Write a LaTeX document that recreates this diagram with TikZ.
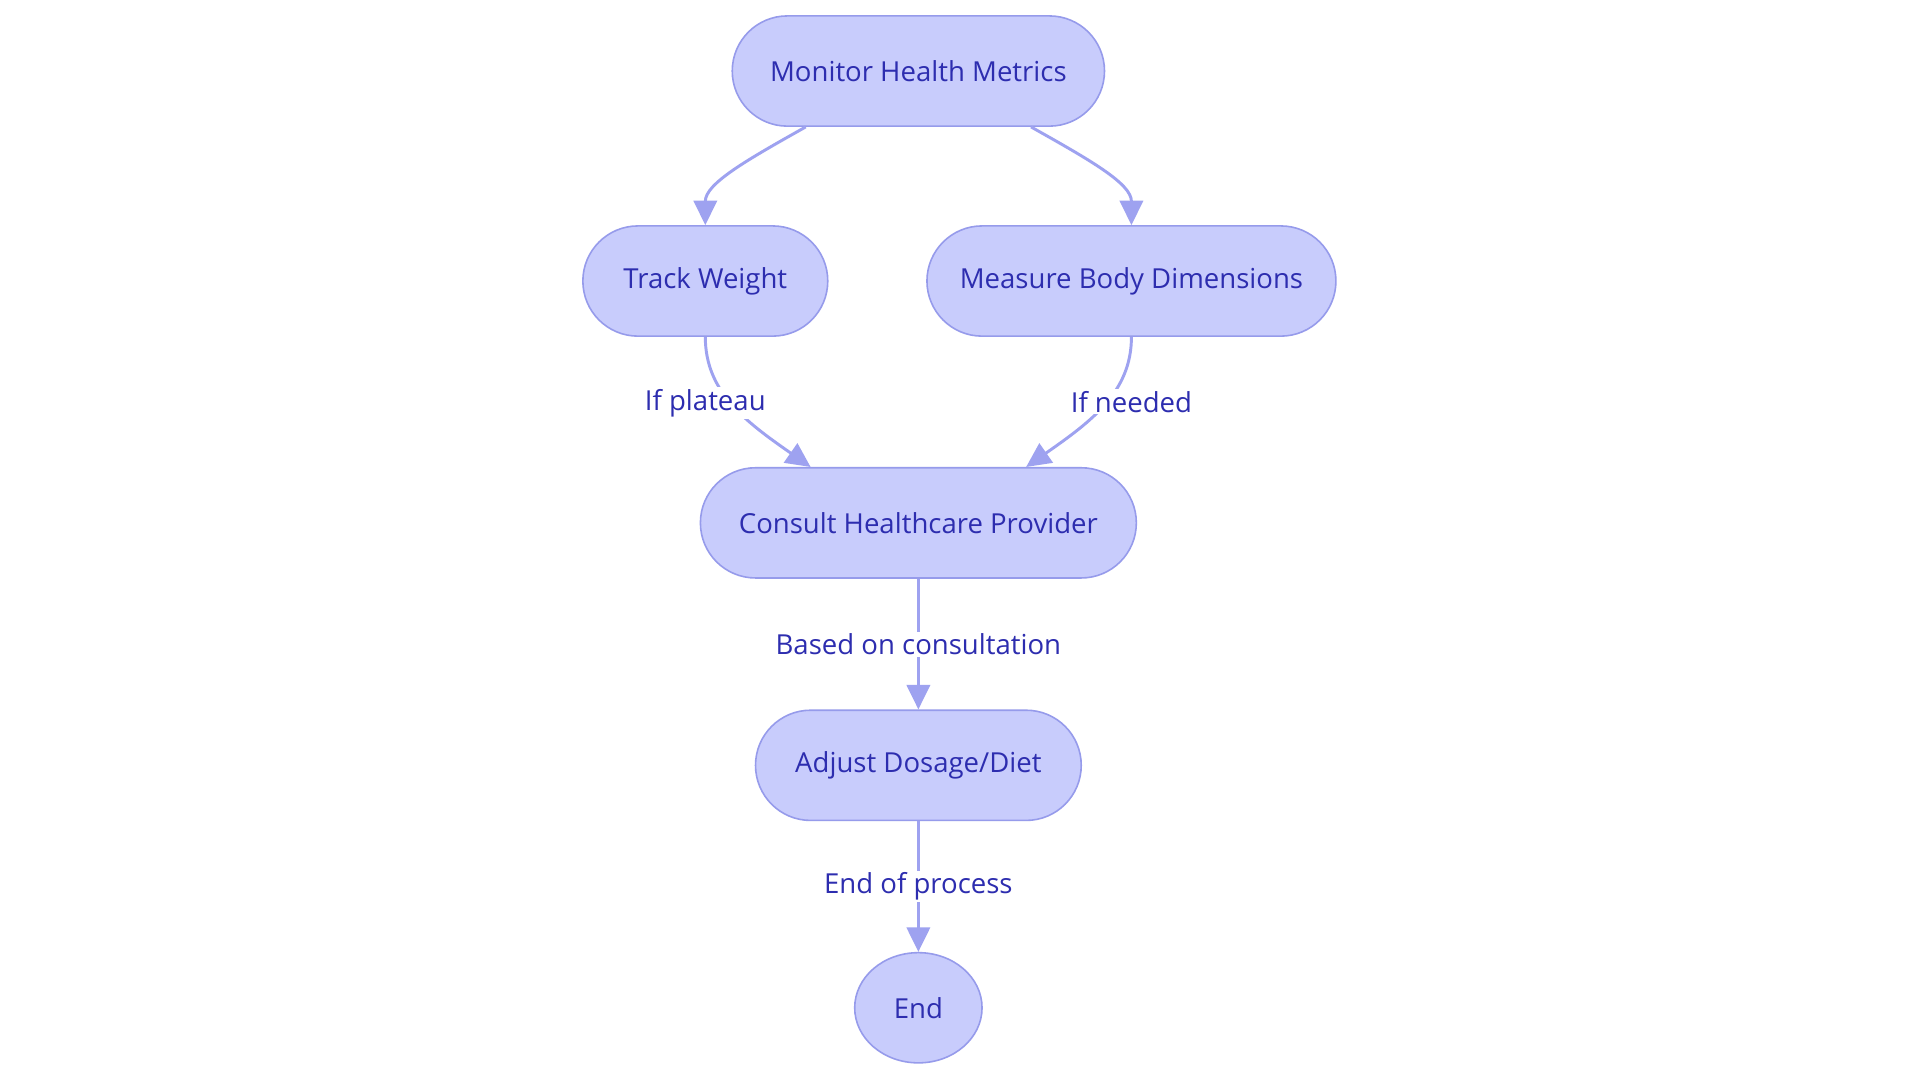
\documentclass[tikz,border=0pt]{standalone}
\usepackage{fontspec}
\setmainfont{Open Sans}
\usetikzlibrary{arrows.meta,shapes.geometric}
\definecolor{nfill}{RGB}{200,204,252}
\definecolor{nborder}{RGB}{150,155,235}
\definecolor{ntext}{RGB}{45,45,175}
\definecolor{nedge}{RGB}{158,162,240}
\tikzset{
  box/.style={draw=nborder, fill=nfill, line width=1.3pt, rounded corners=45pt,
    minimum height=90pt, inner sep=0pt, text=ntext, font=\fontsize{22.5}{26}\selectfont},
  endbox/.style={ellipse, draw=nborder, fill=nfill, line width=1.3pt,
    minimum height=90pt, minimum width=104pt, inner sep=0pt, text=ntext, font=\fontsize{22.5}{26}\selectfont},
  edge/.style={draw=nedge, line width=2.4pt, -{Triangle[length=20pt,width=19pt]}},
  elabel/.style={fill=white, inner sep=1.5pt, text=ntext, font=\fontsize{22.5}{26}\selectfont},
}
\begin{document}
\begin{tikzpicture}[x=1pt,y=-1pt]
\fill[white] (0,0) rectangle (1568,884.4);
\useasboundingbox (0,0) rectangle (1568,884.4);

\node[box, minimum width=304pt] (mon) at (750,58) {Monitor Health Metrics};
\node[box, minimum width=200pt] (tw) at (576,229.5) {Track Weight};
\node[box, minimum width=334pt] (mb) at (924,229.5) {Measure Body Dimensions};
\node[box, minimum width=356pt] (ch) at (750,427) {Consult Healthcare Provider};
\node[box, minimum width=266pt] (ad) at (750,625) {Adjust Dosage/Diet};
\node[endbox] (en) at (750,823) {End};

\draw[edge] ([xshift=-92pt]mon.south) .. controls +(-48,27) and +(0,-34) .. (tw.north);
\draw[edge] ([xshift=92pt]mon.south) .. controls +(48,27) and +(0,-34) .. (mb.north);
\draw[edge] (tw.south) .. controls +(0,45) and +(-53,-37) .. ([xshift=-88pt]ch.north);
\draw[edge] (mb.south) .. controls +(0,45) and +(53,-37) .. ([xshift=88pt]ch.north);
\draw[edge] (ch.south) -- (ad.north);
\draw[edge] (ad.south) -- (en.north);

\node[elabel] (l1) at (576,329) {If plateau};
\node[elabel] (l2) at (924,328) {If needed};
\node[elabel] (l3) at (750,526) {Based on consultation};
\node[elabel] (l4) at (750,724) {End of process};
\end{tikzpicture}
\end{document}
